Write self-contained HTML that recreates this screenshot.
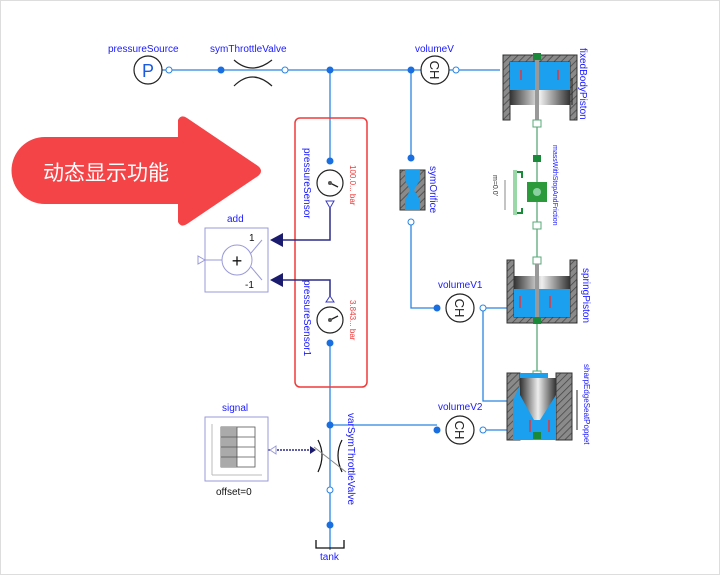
<!DOCTYPE html>
<html><head><meta charset="utf-8"><style>
html,body{margin:0;padding:0;background:#fff}
svg{display:block}
text{font-family:"Liberation Sans","Noto Sans CJK SC",sans-serif}
</style></head><body>
<svg width="720" height="575" viewBox="0 0 720 575" xmlns="http://www.w3.org/2000/svg">
<defs>
<pattern id="h" width="5" height="5" patternUnits="userSpaceOnUse" patternTransform="rotate(45)"><rect width="5" height="5" fill="#8a8a8a"/><line x1="0" y1="0" x2="0" y2="5" stroke="#444" stroke-width="1.5"/></pattern>
<linearGradient id="g" x1="0" x2="1"><stop offset="0" stop-color="#333"/><stop offset=".5" stop-color="#eee"/><stop offset="1" stop-color="#333"/></linearGradient>
</defs>
<rect x="0.5" y="0.5" width="719" height="574" fill="#fff" stroke="#ddd"/>
<g stroke="#2a85e0" stroke-width="1.3" fill="none">
<line x1="162" y1="70" x2="500" y2="70"/>
<line x1="330" y1="70" x2="330" y2="160"/>
<line x1="411" y1="70" x2="411" y2="158"/>
<polyline points="411,222 411,308 437,308"/>
<line x1="483" y1="308" x2="508" y2="308"/>
<polyline points="483,308 483,401 508,401"/>
<line x1="483" y1="430" x2="508" y2="430"/>
<line x1="330" y1="343" x2="330" y2="550"/>
<line x1="330" y1="425" x2="437" y2="425"/>
</g>
<!-- arrow -->
<path d="M45,137 H178 V120 Q181,114 187,118 L258,166 Q264,171 258,176 L187,224 Q181,228 178,222 V204 H45 A33.5,33.5 0 0 1 45,137 Z" fill="#f44447"/>
<text x="43" y="180" font-size="21" fill="#fff">动态显示功能</text>
<!-- red box -->
<rect x="295" y="118" width="72" height="269" rx="5" fill="none" stroke="#f03a3a" stroke-width="1.5"/>
<!-- pressureSource -->
<text x="108" y="52" font-size="10" fill="#1a1aff">pressureSource</text>
<circle cx="148" cy="70" r="14" fill="#fff" stroke="#222" stroke-width="1.2"/>
<text x="148" y="77" font-size="18" fill="#1a5ae0" text-anchor="middle">P</text>
<circle cx="169" cy="70" r="3" fill="#fff" stroke="#2a85e0"/>
<!-- throttle -->
<text x="210" y="52" font-size="10" fill="#1a1aff">symThrottleValve</text>
<path d="M234,60 Q252,76 272,60 M234,86 Q252,68 272,86" fill="none" stroke="#222" stroke-width="1.2"/>
<circle cx="221" cy="70" r="3.5" fill="#1a6fe0"/>
<circle cx="285" cy="70" r="3" fill="#fff" stroke="#2a85e0"/>
<circle cx="330" cy="70" r="3.5" fill="#1a6fe0"/>
<!-- volumeV -->
<text x="415" y="52" font-size="10" fill="#1a1aff">volumeV</text>
<circle cx="411" cy="70" r="3.5" fill="#1a6fe0"/>
<circle cx="435" cy="70" r="14" fill="#fff" stroke="#222" stroke-width="1.2"/>
<text x="435" y="75" font-size="13" fill="#222" text-anchor="middle" transform="rotate(90 435 70)">CH</text>
<circle cx="456" cy="70" r="3" fill="#fff" stroke="#2a85e0"/>
<!-- pressure sensors -->
<circle cx="330" cy="161" r="3.5" fill="#1a6fe0"/>
<circle cx="330" cy="183" r="13" fill="#fff" stroke="#222" stroke-width="1.2"/>
<line x1="330" y1="183" x2="338" y2="187" stroke="#222" stroke-width="1.3"/><circle cx="330" cy="183" r="2" fill="#555"/>
<polygon points="326,201 334,201 330,208" fill="#fff" stroke="#3b3bc0"/>
<text font-size="10" fill="#1a1aff" transform="translate(304,148) rotate(90)">pressureSensor</text>
<text font-size="8" fill="#f03a3a" transform="translate(350,165) rotate(90)">100.0... bar</text>
<circle cx="330" cy="320" r="13" fill="#fff" stroke="#222" stroke-width="1.2"/>
<line x1="330" y1="320" x2="338" y2="316" stroke="#222" stroke-width="1.3"/><circle cx="330" cy="320" r="2" fill="#555"/>
<polygon points="326,302 334,302 330,296" fill="#fff" stroke="#3b3bc0"/>
<circle cx="330" cy="343" r="3.5" fill="#1a6fe0"/>
<text font-size="10" fill="#1a1aff" transform="translate(304,280) rotate(90)">pressureSensor1</text>
<text font-size="8" fill="#f03a3a" transform="translate(350,300) rotate(90)">3.843... bar</text>
<g stroke="#2b2b8a" stroke-width="1.5" fill="none">
<polyline points="330,208 330,240 283,240"/>
<polyline points="330,296 330,280 283,280"/>
<line x1="268" y1="450" x2="310" y2="450" stroke-dasharray="2,1"/>
</g>
<!-- add -->
<text x="227" y="222" font-size="10" fill="#1a1aff">add</text>
<rect x="205" y="228" width="63" height="64" fill="#fff" stroke="#9a9ad8"/>
<circle cx="237" cy="260" r="15" fill="#fff" stroke="#9a9ad8"/>
<path d="M251,253 L262,240 M251,267 L262,280 M222,260 H205" stroke="#9a9ad8" fill="none"/>
<polygon points="205,260 198,256 198,264" fill="#fff" stroke="#9a9ad8"/>
<text x="237" y="267" font-size="18" text-anchor="middle" fill="#111">+</text>
<text x="249" y="241" font-size="10" fill="#111">1</text>
<text x="245" y="288" font-size="10" fill="#111">-1</text>
<polygon points="270,240 283,233 283,247" fill="#1a1a6e"/>
<polygon points="270,280 283,273 283,287" fill="#1a1a6e"/>
<!-- signal -->
<text x="222" y="411" font-size="10" fill="#1a1aff">signal</text>
<rect x="205" y="417" width="63" height="64" fill="#fff" stroke="#9a9ad8"/>
<path d="M212,475 H262 M212,475 V424" stroke="#bbb"/>
<rect x="221" y="427" width="34" height="40" fill="#fff" stroke="#555" stroke-width=".8"/>
<rect x="221" y="427" width="16" height="40" fill="#aaa"/>
<path d="M221,437 H255 M221,447 H255 M221,457 H255 M237,427 V467" stroke="#555" stroke-width=".8"/>
<polygon points="270,450 276,446 276,454" fill="#fff" stroke="#9a9ad8"/>
<text x="216" y="495" font-size="10" fill="#111">offset=0</text>
<!-- variable throttle -->
<polygon points="310,446 310,454 316,450" fill="#1a1a6e"/>
<path d="M318,440 Q326,455 318,472 M342,440 Q334,455 342,472" fill="none" stroke="#111" stroke-width="1.2"/>
<line x1="314" y1="447" x2="346" y2="472" stroke="#888"/>
<circle cx="330" cy="425" r="3.5" fill="#1a6fe0"/>
<circle cx="330" cy="490" r="3" fill="#fff" stroke="#2a85e0"/>
<circle cx="330" cy="525" r="3.5" fill="#1a6fe0"/>
<text font-size="10" fill="#1a1aff" transform="translate(348,413) rotate(90)">varSymThrottleValve</text>
<path d="M316,540 V548 H344 V540" fill="none" stroke="#111" stroke-width="1.3"/>
<text x="320" y="560" font-size="10" fill="#1a1aff">tank</text>
<!-- symOrifice -->
<circle cx="411" cy="158" r="3.5" fill="#1a6fe0"/>
<rect x="400" y="170" width="25" height="40" fill="url(#h)" stroke="#333"/>
<path d="M405,170 H420 V180 L414,190 L420,200 V210 H405 V200 L410,190 L405,180 Z" fill="#1aa0ef"/>
<circle cx="411" cy="222" r="3" fill="#fff" stroke="#2a85e0"/>
<text font-size="10" fill="#1a1aff" transform="translate(430,166) rotate(90)">symOrifice</text>
<!-- volumeV1/V2 -->
<text x="438" y="288" font-size="10" fill="#1a1aff">volumeV1</text>
<circle cx="437" cy="308" r="3.5" fill="#1a6fe0"/>
<circle cx="460" cy="308" r="14" fill="#fff" stroke="#222" stroke-width="1.2"/>
<text x="460" y="313" font-size="13" fill="#222" text-anchor="middle" transform="rotate(90 460 308)">CH</text>
<circle cx="483" cy="308" r="3" fill="#fff" stroke="#2a85e0"/>
<text x="438" y="410" font-size="10" fill="#1a1aff">volumeV2</text>
<circle cx="437" cy="430" r="3.5" fill="#1a6fe0"/>
<circle cx="460" cy="430" r="14" fill="#fff" stroke="#222" stroke-width="1.2"/>
<text x="460" y="435" font-size="13" fill="#222" text-anchor="middle" transform="rotate(90 460 430)">CH</text>
<circle cx="483" cy="430" r="3" fill="#fff" stroke="#2a85e0"/>
<!-- mechanical line -->
<line x1="537" y1="118" x2="537" y2="375" stroke="#5aa87a" stroke-width="1.3"/>
<!-- fixedBodyPiston -->
<path d="M503,55 H577 V120 H570 V62 H510 V120 H503 Z" fill="url(#h)" stroke="#333"/>
<rect x="510" y="62" width="60" height="28" fill="#1aa0ef"/>
<rect x="510" y="90" width="60" height="15" fill="url(#g)"/>
<rect x="535" y="55" width="4" height="65" fill="#999"/>
<rect x="533" y="53" width="8" height="7" fill="#1a8a3a"/>
<rect x="533" y="120" width="8" height="7" fill="#fff" stroke="#5aa87a"/>
<path d="M521,70 v10 M558,70 v10" stroke="#e33" stroke-width="1.5"/>
<line x1="572" y1="78" x2="572" y2="105" stroke="#222"/>
<text font-size="10" fill="#1a1aff" transform="translate(580,48) rotate(90)">fixedBodyPiston</text>
<!-- mass -->
<rect x="533" y="155" width="8" height="7" fill="#1a8a3a"/>
<rect x="527" y="182" width="20" height="20" fill="#2a9a3a"/>
<circle cx="537" cy="192" r="4" fill="#8ad0a0"/>
<rect x="533" y="222" width="8" height="7" fill="#fff" stroke="#5aa87a"/>
<rect x="513" y="170" width="4" height="45" fill="#9ad8a8"/>
<path d="M517,172 H522 V178 M517,213 H522 V208" stroke="#1a8a3a" stroke-width="2" fill="none"/>
<line x1="505" y1="180" x2="505" y2="210" stroke="#888"/>
<text font-size="7" fill="#333" transform="translate(493,175) rotate(90)">m=0.0'</text>
<text font-size="7" fill="#1a1aff" transform="translate(553,145) rotate(90)">massWithStopAndFriction</text>
<!-- springPiston -->
<rect x="533" y="257" width="8" height="7" fill="#fff" stroke="#5aa87a"/>
<path d="M507,260 H514 V317 H570 V260 H577 V323 H507 Z" fill="url(#h)" stroke="#333"/>
<rect x="514" y="276" width="56" height="13" fill="url(#g)"/>
<rect x="514" y="289" width="56" height="28" fill="#1aa0ef"/>
<rect x="535" y="264" width="4" height="55" fill="#999"/>
<rect x="533" y="317" width="8" height="7" fill="#1a8a3a"/>
<path d="M520,296 v12 M550,296 v12" stroke="#e33" stroke-width="1.5"/>
<line x1="577" y1="280" x2="577" y2="310" stroke="#222"/>
<text font-size="10" fill="#1a1aff" transform="translate(583,268) rotate(90)">springPiston</text>
<!-- sharpEdge -->
<rect x="533" y="371" width="8" height="7" fill="#fff" stroke="#5aa87a"/>
<path d="M507,373 H520 V440 H507 Z M556,373 H572 V440 H556 Z" fill="url(#h)" stroke="#333"/>
<path d="M520,373 V385 L513,400 V440 H556 V395 L548,385 V373 Z" fill="#1aa0ef"/>
<path d="M520,378 H556 V395 L540,420 H534 L520,395 Z" fill="url(#g)"/>
<rect x="533" y="432" width="8" height="7" fill="#1a8a3a"/>
<path d="M530,420 v12 M549,420 v12" stroke="#e33" stroke-width="1.5"/>
<line x1="577" y1="390" x2="577" y2="430" stroke="#222"/>
<text font-size="8" fill="#1a1aff" transform="translate(584,364) rotate(90)">sharpEdgeSeatPoppet</text>
</svg>
</body></html>
